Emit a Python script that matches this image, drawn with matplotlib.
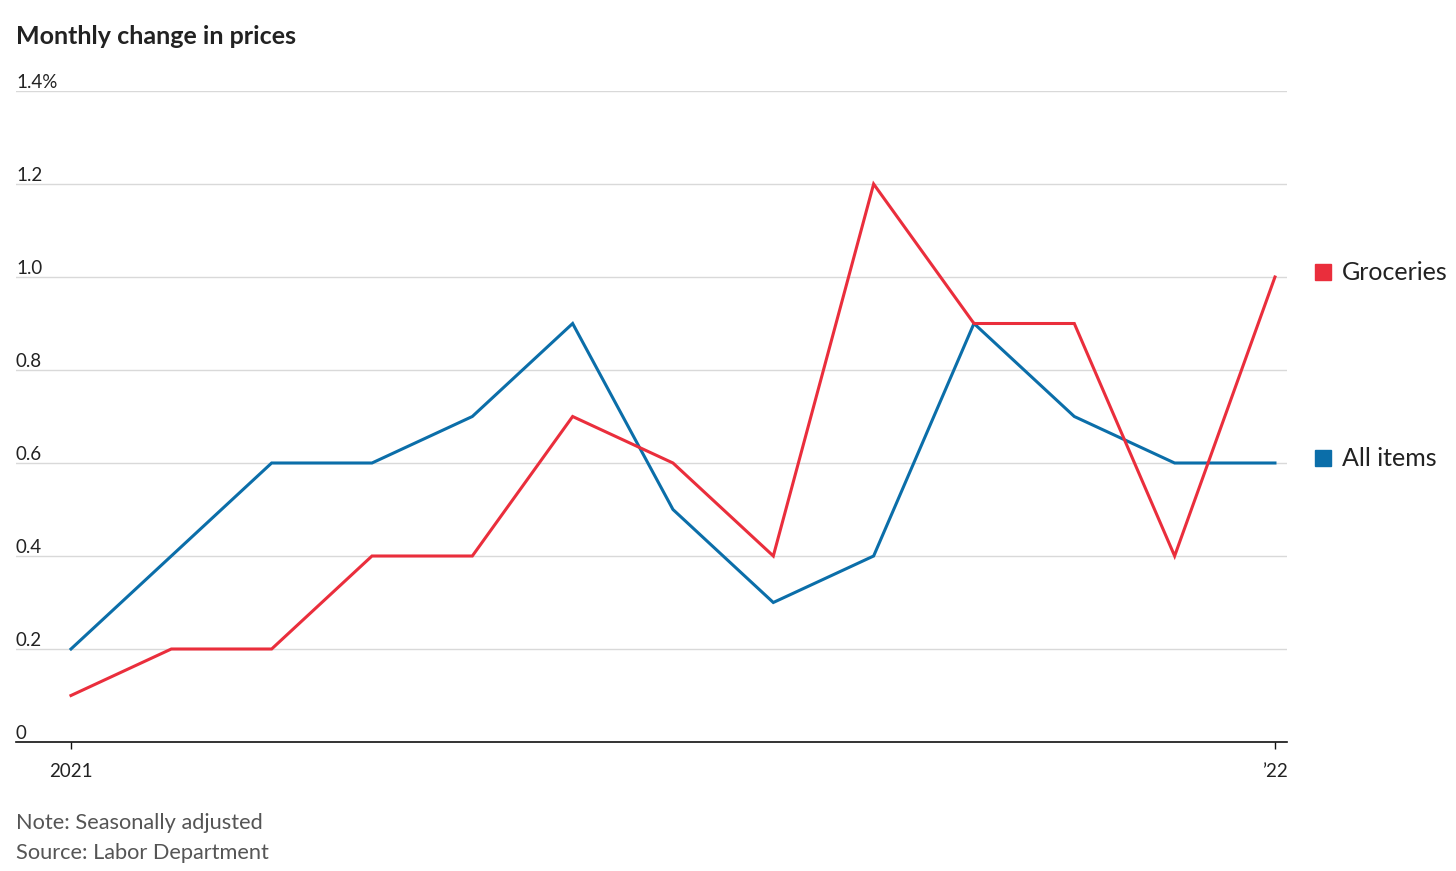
import matplotlib
matplotlib.use("Agg")
import matplotlib.pyplot as plt

months = list(range(13))
groceries = [0.1, 0.2, 0.2, 0.4, 0.4, 0.7, 0.6, 0.4, 1.2, 0.9, 0.9, 0.4, 1.0]
all_items = [0.2, 0.4, 0.6, 0.6, 0.7, 0.9, 0.5, 0.3, 0.4, 0.9, 0.7, 0.6, 0.6]
y_ticks = [0, 0.2, 0.4, 0.6, 0.8, 1.0, 1.2, 1.4]
y_labels = ["0", "0.2", "0.4", "0.6", "0.8", "1.0", "1.2", "1.4%"]
x_ticks = [0, 12]
x_labels = ["2021", "\u201922"]

RED = "#ea2e3c"
BLUE = "#0b6ea9"
TXT = "#222222"
GREY = "#555555"

plt.rcParams["font.family"] = ["Lato", "DejaVu Sans"]

W, H = 1456, 871
fig = plt.figure(figsize=(W / 100, H / 100), dpi=100)
ax = fig.add_axes([16 / W, (H - 742) / H, (1287 - 16) / W, (742 - 91) / H])

ax.set_xlim(-0.548, 12.12)
ax.set_ylim(0, 1.4)

for y in y_ticks[1:]:
    ax.axhline(y, color="#d9d9d9", lw=1.0, zorder=0)

ax.plot(months, all_items, color=BLUE, lw=2.2, solid_joinstyle="miter", zorder=3)
ax.plot(months, groceries, color=RED, lw=2.2, solid_joinstyle="miter", zorder=4)

for s in ["top", "right", "left"]:
    ax.spines[s].set_visible(False)
ax.spines["bottom"].set_color("#111111")
ax.spines["bottom"].set_linewidth(1.2)

ax.set_yticks([])
ax.set_xticks(x_ticks)
ax.set_xticklabels(x_labels, fontsize=13.5, color=TXT)
ax.tick_params(axis="x", length=5, width=1, color="#111111", pad=10)

for y, lab in zip(y_ticks, y_labels):
    ax.text(0.0, y, lab, transform=ax.get_yaxis_transform(), ha="left",
            va="bottom", fontsize=13.5, color=TXT)

# legend labels at right, aligned with series ends
for val, lab, col in [(groceries[-1], "Groceries", RED), (all_items[-1], "All items", BLUE)]:
    ax.plot([1.0285], [val + 0.01], marker="s", ms=12, color=col, transform=ax.get_yaxis_transform(),
            clip_on=False)
    ax.text(1.0435, val + 0.01, lab, transform=ax.get_yaxis_transform(), ha="left", va="center",
            fontsize=18, color=TXT)

fig.text(16 / W, 1 - 36 / H, "Monthly change in prices", fontsize=18, fontweight="bold",
         color=TXT, ha="left", va="center")
fig.text(16 / W, 1 - 823 / H, "Note: Seasonally adjusted", fontsize=15.7, color=GREY,
         ha="left", va="center")
fig.text(16 / W, 1 - 853 / H, "Source: Labor Department", fontsize=15.7, color=GREY,
         ha="left", va="center")

fig.savefig("out.png", dpi=100, facecolor="white")
